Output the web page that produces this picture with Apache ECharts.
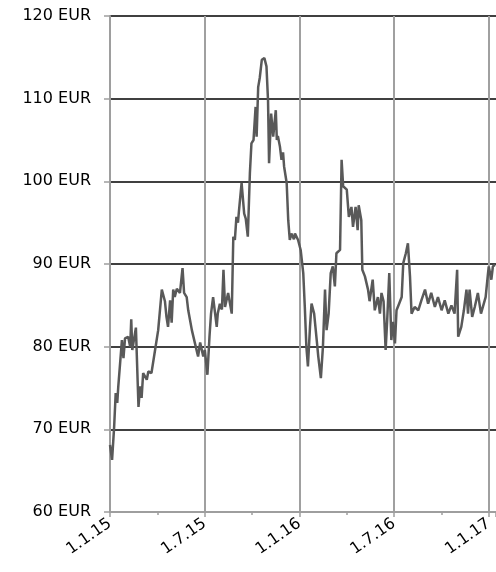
<!DOCTYPE html>
<html>
<head>
<meta charset="utf-8">
<script src="https://cdn.jsdelivr.net/npm/echarts@6/dist/echarts.min.js"></script>
<style>
  html, body { margin: 0; padding: 0; background: #fff; }
  #chart { width: 496px; height: 572px; }
</style>
</head>
<body>
<div id="chart"></div>
<script>
// x = days since 1.1.2015
const dayOffsets = [
  0, 4, 8, 11, 14, 16, 23, 26, 29, 35, 39, 41, 43, 50, 55, 58, 61, 64, 71, 74,
  80, 87, 93, 100, 103, 106, 109, 112, 116, 119, 122, 125, 129, 135, 140, 143, 148, 151, 158, 164,
  170, 174, 177, 180, 183, 188, 192, 195, 199, 206, 208, 212, 216, 219, 222, 228, 235, 238, 241, 244,
  247, 249, 254, 259, 262, 266, 270, 273, 277, 281, 283, 286, 289, 293, 298, 302, 305, 307, 311, 315,
  320, 322, 324, 328, 331, 334, 336, 341, 344, 347, 350, 355, 357, 363, 368, 373, 376, 379, 382, 386,
  389, 394, 399, 402, 407, 411, 415, 418, 422, 426, 430, 434, 437, 444, 447, 450, 457, 461, 466, 469,
  474, 478, 480, 485, 487, 492, 498, 501, 507, 511, 517, 521, 524, 528, 532, 535, 539, 543, 546, 550,
  553, 558, 563, 566, 571, 575, 579, 582, 588, 595, 601, 608, 614, 620, 627, 633, 640, 646, 653, 659,
  665, 670, 672, 675, 678, 683, 688, 691, 694, 699, 704, 710, 716, 725, 729, 731, 736, 739, 743
];
const prices = [
  68.1, 66.3, 70.3, 74.4, 73.2, 75.2, 80.8, 78.6, 81.0, 81.2, 80.0, 83.3, 79.6, 82.3, 72.7, 75.2, 73.8, 76.8, 76.0, 77.0,
  76.8, 79.6, 82.0, 86.9, 87.1, 85.5, 83.6, 82.4, 85.6, 82.9, 86.9, 86.0, 87.0, 86.5, 89.5, 86.5, 86.0, 84.4, 82.0, 80.4,
  78.8, 80.5, 80.4, 78.8, 79.6, 76.6, 81.2, 84.0, 86.0, 82.4, 84.0, 85.2, 84.5, 89.3, 84.8, 86.5, 84.0, 93.3, 92.9, 95.7,
  95.0, 96.5, 99.8, 96.1, 95.5, 93.3, 101.0, 104.6, 105.0, 109.0, 105.4, 111.4, 112.5, 114.7, 114.9, 113.9, 109.8, 102.2, 108.2, 105.4,
  108.6, 105.0, 105.5, 104.2, 102.6, 103.5, 101.8, 99.8, 95.3, 92.9, 93.7, 93.0, 93.7, 92.9, 91.7, 88.9, 84.8, 80.0, 77.6, 82.4,
  85.2, 84.0, 80.8, 78.8, 76.2, 80.0, 86.9, 82.0, 84.0, 88.9, 89.7, 87.3, 91.3, 91.7, 102.6, 99.4, 99.0, 95.7, 96.9, 94.5,
  96.9, 94.1, 97.1, 95.3, 89.3, 88.5, 86.9, 85.5, 88.1, 84.4, 86.0, 84.0, 86.5, 85.5, 79.6, 83.2, 88.9, 80.8, 83.0, 80.4,
  84.4, 85.2, 86.0, 90.1, 91.3, 92.5, 88.5, 84.0, 84.8, 84.4, 85.6, 86.9, 85.2, 86.5, 84.8, 86.0, 84.4, 85.6, 84.0, 85.0,
  84.0, 89.3, 81.2, 81.0, 82.4, 84.4, 86.9, 84.0, 86.9, 83.6, 84.8, 86.5, 84.0, 86.0, 88.5, 89.7, 88.1, 89.7, 89.9
];
const xLabels = ['1.1.15', '1.7.15', '1.1.16', '1.7.16', '1.1.17'];
const halfYear = 731 / 4;
const xMax = 745;
const yMin = 60;
const yMax = 120;
const yStep = 10;

const chart = echarts.init(document.getElementById('chart'));
chart.setOption({
  animation: false,
  textStyle: { fontFamily: 'DejaVu Sans' },
  grid: { left: 110, right: 0, top: 16, bottom: 60, outerBoundsMode: 'none', containLabel: false },
  xAxis: {
    type: 'value',
    min: 0,
    max: xMax,
    interval: halfYear,
    axisLine: { show: true, lineStyle: { color: '#9e9e9e', width: 2 } },
    axisTick: { show: true, length: 5, lineStyle: { color: '#9e9e9e', width: 1.5 } },
    minorTick: { show: true, splitNumber: 2, length: 3, lineStyle: { color: '#9e9e9e', width: 1.5 } },
    splitLine: {
      show: true,
      lineStyle: { color: ['#a0a0a0', '#a0a0a0', '#a0a0a0', '#a0a0a0', '#a0a0a0', 'rgba(0,0,0,0)'], width: 2 }
    },
    axisLabel: {
      rotate: 35,
      margin: 10,
      fontSize: 16,
      color: '#000',
      formatter: function (v) {
        const i = Math.round(v / halfYear);
        if (i < xLabels.length && Math.abs(v - i * halfYear) < 1) return xLabels[i];
        return '';
      }
    }
  },
  yAxis: {
    type: 'value',
    min: yMin,
    max: yMax,
    interval: yStep,
    axisLine: { show: true, lineStyle: { color: '#9e9e9e', width: 2 } },
    axisTick: { show: true, length: 6, lineStyle: { color: '#9e9e9e', width: 1.5 } },
    splitLine: {
      show: true,
      lineStyle: { color: ['#9e9e9e', '#000', '#000', '#000', '#000', '#000', '#000'], width: 1.5 }
    },
    axisLabel: {
      margin: 19,
      fontSize: 16,
      color: '#000',
      formatter: '{value} EUR'
    }
  },
  series: [{
    type: 'line',
    data: dayOffsets.map((d, i) => [d, prices[i]]),
    showSymbol: false,
    lineStyle: { color: '#595959', width: 2.5 },
    z: 5
  }]
});
</script>
</body>
</html>
